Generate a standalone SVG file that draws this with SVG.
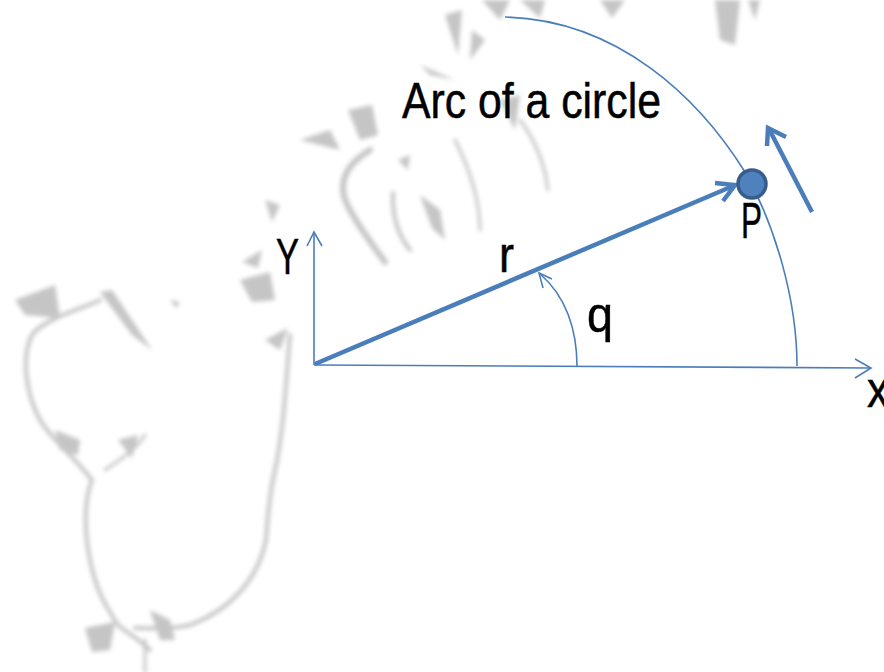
<svg xmlns="http://www.w3.org/2000/svg" width="884" height="672" viewBox="0 0 884 672">
<style>
  .lbl { font-family: "Liberation Sans", Arial, sans-serif; font-size: 50px; fill: #000; stroke: #000; stroke-width: 0.5; }
  .thin { fill: none; stroke: #4A7EBB; stroke-width: 1.6; }
  .thick { fill: none; stroke: #4A7EBB; stroke-width: 4.5; }
  .bg { fill: none; stroke: #8c8c8c; stroke-linecap: round; stroke-linejoin: round; }
  .wedge { fill: #8c8c8c; }
</style>
<defs>
  <filter id="blur" x="-10%" y="-10%" width="120%" height="120%">
    <feGaussianBlur stdDeviation="2.2"/>
  </filter>
</defs>
<rect width="884" height="672" fill="#ffffff"/>

<g id="background" filter="url(#blur)" opacity="0.5">
  <path class="bg" stroke-width="4" d="M100,300 C80,310 45,318 32,335 C22,355 24,390 40,420 C52,440 70,452 92,480 C84,500 84,530 90,560 C96,590 105,605 118,625 C130,635 140,640 150,650"/>
  <path class="bg" stroke-width="4" d="M290,335 C286,380 284,430 275,470 C268,500 268,520 266,540 C258,580 230,610 190,625 C170,630 150,628 135,628"/>
  <path class="bg" stroke-width="3" d="M105,470 C120,460 135,450 145,435"/>
  <polygon class="wedge" points="15,300 55,285 60,318 25,315"/>
  <polygon class="wedge" points="100,292 112,290 152,350 132,335"/>
  <polygon class="wedge" points="55,430 80,440 78,455 60,450"/>
  <polygon class="wedge" points="118,440 138,435 132,458"/>
  <polygon class="wedge" points="150,610 170,620 175,640 160,640"/>
  <polygon class="wedge" points="85,628 115,622 110,650 92,652"/>
  <path class="bg" stroke-width="3" d="M145,672 L145,640"/>
  <polygon class="wedge" points="265,340 288,328 280,350"/>
  <polygon class="wedge" points="170,300 180,302 176,308"/>
  <polygon class="wedge" points="242,262 262,250 258,268"/>
  <polygon class="wedge" points="240,280 270,272 275,300 252,302"/>
  <polygon class="wedge" points="265,200 280,205 272,222"/>
  <polygon class="wedge" points="300,140 330,130 340,150"/>
  <polygon class="wedge" points="348,110 372,105 378,135 360,140"/>
  <path class="bg" stroke-width="6" d="M370,150 C345,165 335,185 350,210 C362,232 375,248 385,262"/>
  <path class="bg" stroke-width="4" d="M393,193 C392,215 398,235 410,250"/>
  <polygon class="wedge" points="398,160 410,155 408,170"/>
  <polygon class="wedge" points="420,195 440,210 445,240 432,228"/>
  <polygon class="wedge" points="420,65 455,80 430,75"/>
  <polygon class="wedge" points="445,15 462,10 458,55"/>
  <polygon class="wedge" points="472,30 485,40 470,60"/>
  <polygon class="wedge" points="482,0 510,0 500,20"/>
  <polygon class="wedge" points="520,0 545,0 540,18"/>
  <path class="bg" stroke-width="3" d="M455,140 C470,170 480,200 480,230"/>
  <path class="bg" stroke-width="3" d="M520,120 C535,140 545,165 548,190"/>
  <polygon class="wedge" points="500,100 520,95 515,130"/>
  <polygon class="wedge" points="715,0 740,0 735,45 720,40"/>
  <polygon class="wedge" points="748,0 760,0 755,20"/>
  <polygon class="wedge" points="600,0 625,0 612,18"/>
</g>

<g id="connectors">
  <g id="y-axis">
    <line class="thin" x1="314" y1="365" x2="314" y2="232"/>
    <polyline class="thin" points="307,246 314,232 322,246"/>
  </g>
  <g id="x-axis">
    <line class="thin" x1="314" y1="365" x2="871" y2="368"/>
    <polyline class="thin" points="855,359 871,368 855,378"/>
  </g>
  <path id="big-arc" class="thin" d="M505,17 C620,20 700,100 745,172 C775,225 797,300 797,366"/>
  <g id="angle-arc">
    <path class="thin" d="M577,366 C577,330 566,296 540,274"/>
    <polyline class="thin" points="543,288 539,273 552,279"/>
  </g>
  <g id="r-vector">
    <line class="thick" x1="315" y1="364" x2="733" y2="186"/>
    <polyline class="thick" points="715,183 735,185 723,201"/>
  </g>
  <g id="motion-arrow">
    <line class="thick" x1="812" y1="212" x2="769" y2="129"/>
    <polyline class="thick" points="767,146 768,128 786,137"/>
  </g>
</g>

<g id="point-P">
  <circle cx="752" cy="184" r="14" fill="#4F81BD" stroke="#385D8A" stroke-width="3.5"/>
  <text class="lbl" x="741" y="238" font-size="46" textLength="21" lengthAdjust="spacingAndGlyphs">P</text>
</g>

<g id="labels">
  <text class="lbl" x="402" y="118" textLength="259" lengthAdjust="spacingAndGlyphs">Arc of a circle</text>
  <text class="lbl" x="276" y="274" textLength="23" lengthAdjust="spacingAndGlyphs">Y</text>
  <text class="lbl" x="499" y="272" textLength="15" lengthAdjust="spacingAndGlyphs">r</text>
  <text class="lbl" x="587" y="332" textLength="26" lengthAdjust="spacingAndGlyphs">q</text>
  <text class="lbl" x="867" y="407" textLength="22" lengthAdjust="spacingAndGlyphs">x</text>
</g>
</svg>
